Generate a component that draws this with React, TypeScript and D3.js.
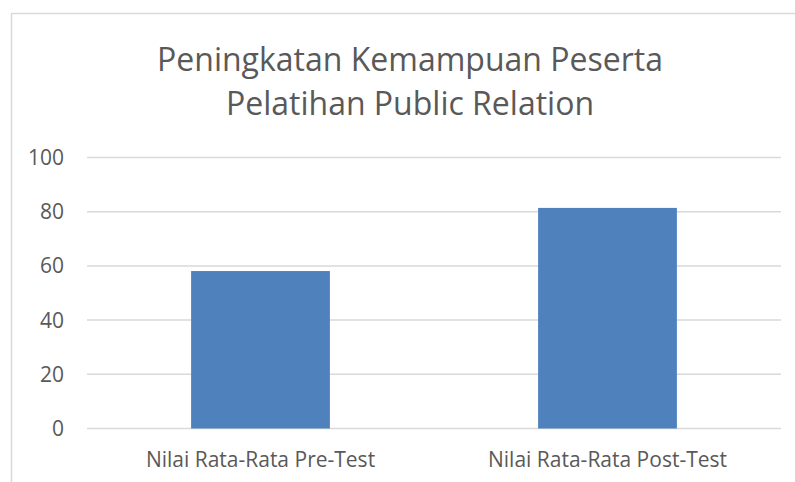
import React, { useEffect, useRef } from 'react';
import * as d3 from 'd3';

const categories = ['Nilai Rata-Rata Pre-Test', 'Nilai Rata-Rata Post-Test'];
const values = [58.1, 81.4];
const yTicks = [0, 20, 40, 60, 80, 100];
const titleLines = ['Peningkatan Kemampuan Peserta', 'Pelatihan Public Relation'];

const W = 795;
const H = 482;

export default function App() {
  const ref = useRef<SVGSVGElement>(null);

  useEffect(() => {
    if (!ref.current) return;
    const svg = d3.select(ref.current);
    svg.selectAll('*').remove();

    const font = "'Open Sans', sans-serif";
    const textColor = '#595959';

    // chart area border (runs past right/bottom edge)
    svg.append('rect')
      .attr('x', 11.5).attr('y', 13.5)
      .attr('width', 800).attr('height', 500)
      .attr('fill', 'white')
      .attr('stroke', '#d9d9d9')
      .attr('stroke-width', 1.5);

    const x = d3.scaleBand<string>()
      .domain(categories)
      .range([87, 781])
      .paddingInner(0.6)
      .paddingOuter(0.3);

    const y = d3.scaleLinear().domain([0, 100]).range([428.5, 157.5]);

    // gridlines
    svg.append('g')
      .selectAll('line')
      .data(yTicks)
      .enter()
      .append('line')
      .attr('x1', 87).attr('x2', 781)
      .attr('y1', d => y(d)).attr('y2', d => y(d))
      .attr('stroke', '#d9d9d9')
      .attr('stroke-width', 1.5);

    // y labels
    svg.append('g')
      .selectAll('text')
      .data(yTicks)
      .enter()
      .append('text')
      .attr('x', 64)
      .attr('y', d => y(d) + 7.5)
      .attr('text-anchor', 'end')
      .style('font-family', font)
      .style('font-size', '21px')
      .attr('fill', textColor)
      .text(d => d);

    // bars
    svg.append('g')
      .selectAll('rect')
      .data(values)
      .enter()
      .append('rect')
      .attr('x', (d, i) => x(categories[i])!)
      .attr('width', x.bandwidth())
      .attr('y', d => y(d))
      .attr('height', d => y(0) - y(d))
      .attr('fill', '#4f81bd');

    // category labels
    svg.append('g')
      .selectAll('text')
      .data(categories)
      .enter()
      .append('text')
      .attr('x', d => x(d)! + x.bandwidth() / 2)
      .attr('y', 467)
      .attr('text-anchor', 'middle')
      .style('font-family', font)
      .style('font-size', '21px')
      .attr('fill', textColor)
      .text(d => d);

    // title
    svg.append('g')
      .selectAll('text')
      .data(titleLines)
      .enter()
      .append('text')
      .attr('x', 410)
      .attr('y', (d, i) => 71 + i * 44)
      .attr('text-anchor', 'middle')
      .style('font-family', font)
      .style('font-size', '32px')
      .attr('fill', textColor)
      .text(d => d);
  }, []);

  return (
    <svg
      ref={ref}
      width={W}
      height={H}
      style={{ position: 'absolute', left: 0, top: 0, display: 'block' }}
    />
  );
}
